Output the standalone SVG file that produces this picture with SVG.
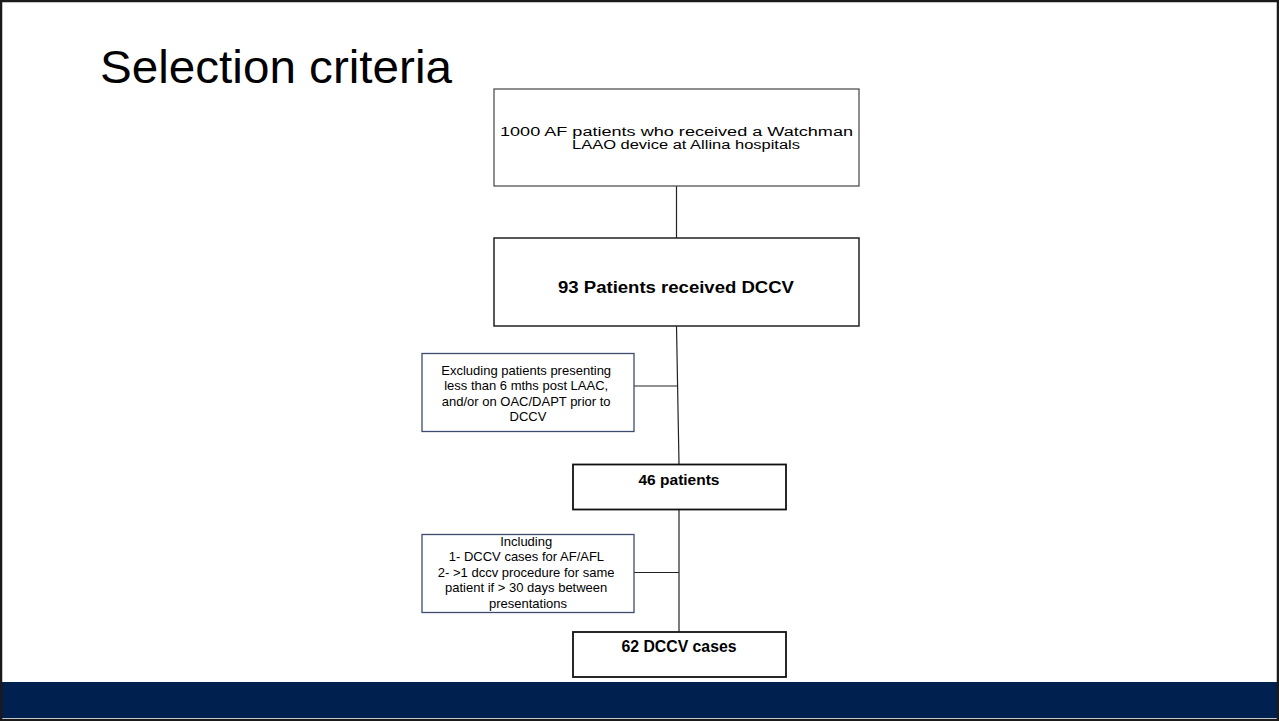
<svg xmlns="http://www.w3.org/2000/svg" width="1279" height="721" viewBox="0 0 1279 721">
<style>
.t{font-family:"Liberation Sans",Arial,sans-serif;fill:#000}
.b{font-weight:bold}
.box{fill:#fff}
.conn{stroke:#222;stroke-width:1.2;fill:none}
</style>
<rect x="0" y="0" width="1279" height="721" fill="#fff"/>
<rect x="0" y="682" width="1279" height="36" fill="#002050"/>
<rect x="1" y="1" width="1277" height="719" fill="none" stroke="#1a1a1a" stroke-width="2.5"/>
<text class="t" x="100" y="83" font-size="47" textLength="352" lengthAdjust="spacingAndGlyphs">Selection criteria</text>
<g id="connectors">
<line class="conn" x1="676.5" y1="186" x2="676.5" y2="238"/>
<line class="conn" x1="676.5" y1="326" x2="679" y2="464"/>
<line class="conn" x1="634" y1="386" x2="677" y2="386"/>
<line class="conn" x1="679" y1="510" x2="679" y2="632"/>
<line class="conn" x1="634" y1="572.5" x2="679" y2="572.5"/>
</g>
<g id="n1">
<rect class="box" x="494" y="89" width="365" height="97" stroke="#444" stroke-width="1.2"/>
<text class="t" x="500" y="136" font-size="12" textLength="353" lengthAdjust="spacingAndGlyphs">1000 AF patients who received a Watchman</text>
<text class="t" x="572" y="148.5" font-size="12" textLength="228" lengthAdjust="spacingAndGlyphs">LAAO device at Allina hospitals</text>
</g>
<g id="n2">
<rect class="box" x="494" y="238" width="365" height="88" stroke="#222" stroke-width="1.5"/>
<text class="t b" x="558" y="293" font-size="16" textLength="236" lengthAdjust="spacingAndGlyphs">93 Patients received DCCV</text>
</g>
<g id="n3">
<rect class="box" x="422" y="353.5" width="212" height="78" stroke="#3d4c6e" stroke-width="1.3"/>
<text class="t" text-anchor="middle" font-size="13">
<tspan x="528" y="374.5">Excluding patients presenting</tspan>
<tspan x="528" y="390">less than 6 mths post LAAC,</tspan>
<tspan x="528" y="405.5">and/or on OAC/DAPT prior to</tspan>
<tspan x="528" y="421">DCCV</tspan>
</text>
</g>
<g id="n4">
<rect class="box" x="573" y="464.5" width="213" height="45" stroke="#111" stroke-width="1.8"/>
<text class="t b" x="679" y="485" font-size="15.5" text-anchor="middle">46 patients</text>
</g>
<g id="n5">
<rect class="box" x="422" y="534.5" width="212" height="78" stroke="#3d4c6e" stroke-width="1.3"/>
<text class="t" text-anchor="middle" font-size="13">
<tspan x="528" y="545.5">Including</tspan>
<tspan x="528" y="561">1- DCCV cases for AF/AFL</tspan>
<tspan x="528" y="576.5">2- &gt;1 dccv procedure for same</tspan>
<tspan x="528" y="592">patient if &gt; 30 days between</tspan>
<tspan x="528" y="607.5">presentations</tspan>
</text>
</g>
<g id="n6">
<rect class="box" x="573" y="632" width="213" height="45" stroke="#111" stroke-width="1.8"/>
<text class="t b" x="679" y="652" font-size="15.8" text-anchor="middle">62 DCCV cases</text>
</g>
</svg>
